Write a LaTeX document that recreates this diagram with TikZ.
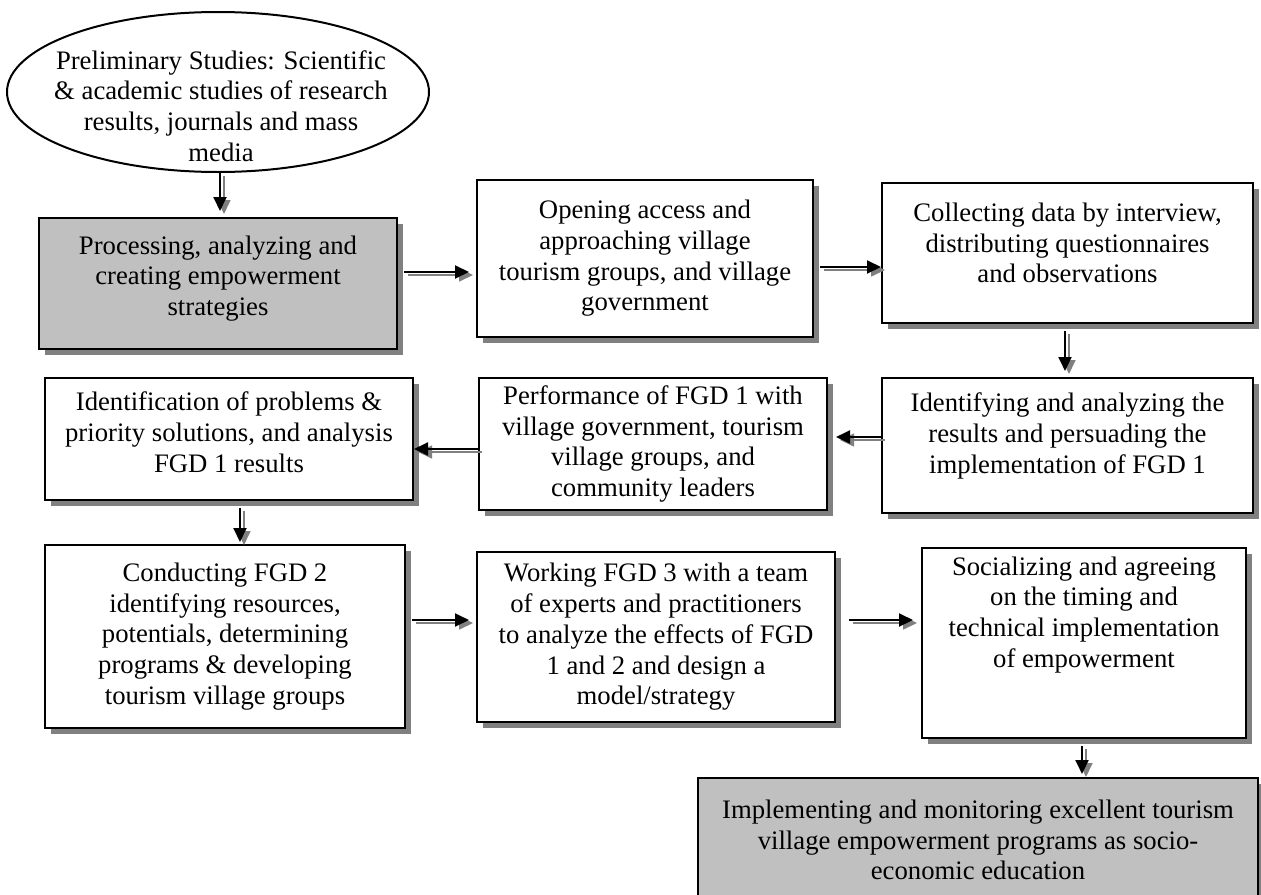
\documentclass[tikz,border=0pt]{standalone}
\usepackage{fontspec}
\setmainfont{Liberation Serif}
\usetikzlibrary{arrows.meta,shapes.geometric,shadows}
\definecolor{boxgrey}{RGB}{192,192,192}
\definecolor{shadowgrey}{RGB}{128,128,128}
\newcommand{\txtup}[1]{\rule[-#1]{0pt}{0pt}}
\begin{document}
\begin{tikzpicture}[x=0.5pt,y=-0.5pt,
  every node/.style={font=\fontsize{13.35pt}{15.35pt}\selectfont},
  box/.style={draw=black, line width=1pt, fill=white, align=center, inner sep=0pt,
     drop shadow={shadow xshift=3pt, shadow yshift=-3pt, fill=shadowgrey, opacity=1}},
  greybox/.style={box, fill=boxgrey},
  arr/.style={draw=black, line width=1pt, -{Triangle[length=7pt,width=6.5pt]},
     preaction={draw=shadowgrey, line width=0.8pt, transform canvas={xshift=2pt,yshift=-1.5pt}}}
]
\useasboundingbox (0,0) rectangle (1261,894);
\fill[white] (0,0) rectangle (1261,894);

\node (E) [ellipse, draw=black, line width=1pt, minimum width=211pt, minimum height=80pt] at (218,92) {};
\node (Etext) [align=center] at (221,106) {Preliminary Studies: Scientific\\\& academic studies of research\\results, journals and mass\\media};

\node (P) [greybox, minimum width=179pt, minimum height=65.5pt] at (218,283.5)
  {Processing, analyzing and\\creating empowerment\\strategies\txtup{8pt}};
\node (O) [box, minimum width=168pt, minimum height=78.5pt] at (645,258.5)
  {Opening access and\\approaching village\\tourism groups, and village\\government};
\node (C) [box, minimum width=185.5pt, minimum height=70pt] at (1067.5,253)
  {Collecting data by interview,\\distributing questionnaires\\and observations\txtup{10pt}};
\node (I) [box, minimum width=185.5pt, minimum height=67.5pt] at (1067.5,445.5)
  {Identifying and analyzing the\\results and persuading the\\implementation of FGD 1\txtup{12.5pt}};
\node (Pf) [box, minimum width=174pt, minimum height=66pt] at (653,444)
  {Performance of FGD 1 with\\village government, tourism\\village groups, and\\community leaders};
\node (Id) [box, minimum width=184pt, minimum height=61pt] at (229,439)
  {Identification of problems \&\\priority solutions, and analysis\\FGD 1 results\txtup{7pt}};
\node (Cd) [box, minimum width=180pt, minimum height=91.5pt] at (225,636.5)
  {Conducting FGD 2\\identifying resources,\\potentials, determining\\programs \& developing\\tourism village groups};
\node (W) [box, minimum width=179pt, minimum height=85pt] at (656,637)
  {Working FGD 3 with a team\\of experts and practitioners\\to analyze the effects of FGD\\1 and 2 and design a\\model/strategy};
\node (S) [box, minimum width=162pt, minimum height=95pt] at (1084,643)
  {Socializing and agreeing\\on the timing and\\technical implementation\\of empowerment\txtup{31pt}};
\node (M) [greybox, minimum width=280pt, minimum height=62pt] at (978,840)
  {Implementing and monitoring excellent tourism\\village empowerment programs as socio-\\economic education};

% connectors
\draw[arr, shorten >=3pt] ([xshift=1pt]E.south) -- ([xshift=1pt]P.north);
\draw[arr, shorten >=3.5pt] ([shift={(6,-11.5)}]P.east) coordinate (a2) -- (a2 -| O.west);
\draw[arr] ([shift={(6,8.5)}]O.east) coordinate (a3) -- (a3 -| C.west);
\draw[arr, shorten >=3pt] ([shift={(-2.5,7)}]C.south) coordinate (a4) -- (a4 |- I.north);
\draw[arr, shorten >=4pt] ([shift={(0,-8.5)}]I.west) coordinate (a5) -- (a5 -| Pf.east);
\draw[arr] ([shift={(0,5)}]Pf.west) coordinate (a6) -- (a6 -| Id.east);
\draw[arr, shorten >=1pt] ([shift={(11,7)}]Id.south) coordinate (a7) -- (a7 |- Cd.north);
\draw[arr, shorten >=3.5pt] ([shift={(6,-16.5)}]Cd.east) coordinate (a8) -- (a8 -| W.west);
\draw[arr, shorten >=4pt] ([shift={(13,-17)}]W.east) coordinate (a9) -- (a9 -| S.west);
\draw[arr, shorten >=1.5pt] ([shift={(-2,7)}]S.south) coordinate (a10) -- (a10 |- M.north);
\end{tikzpicture}
\end{document}
